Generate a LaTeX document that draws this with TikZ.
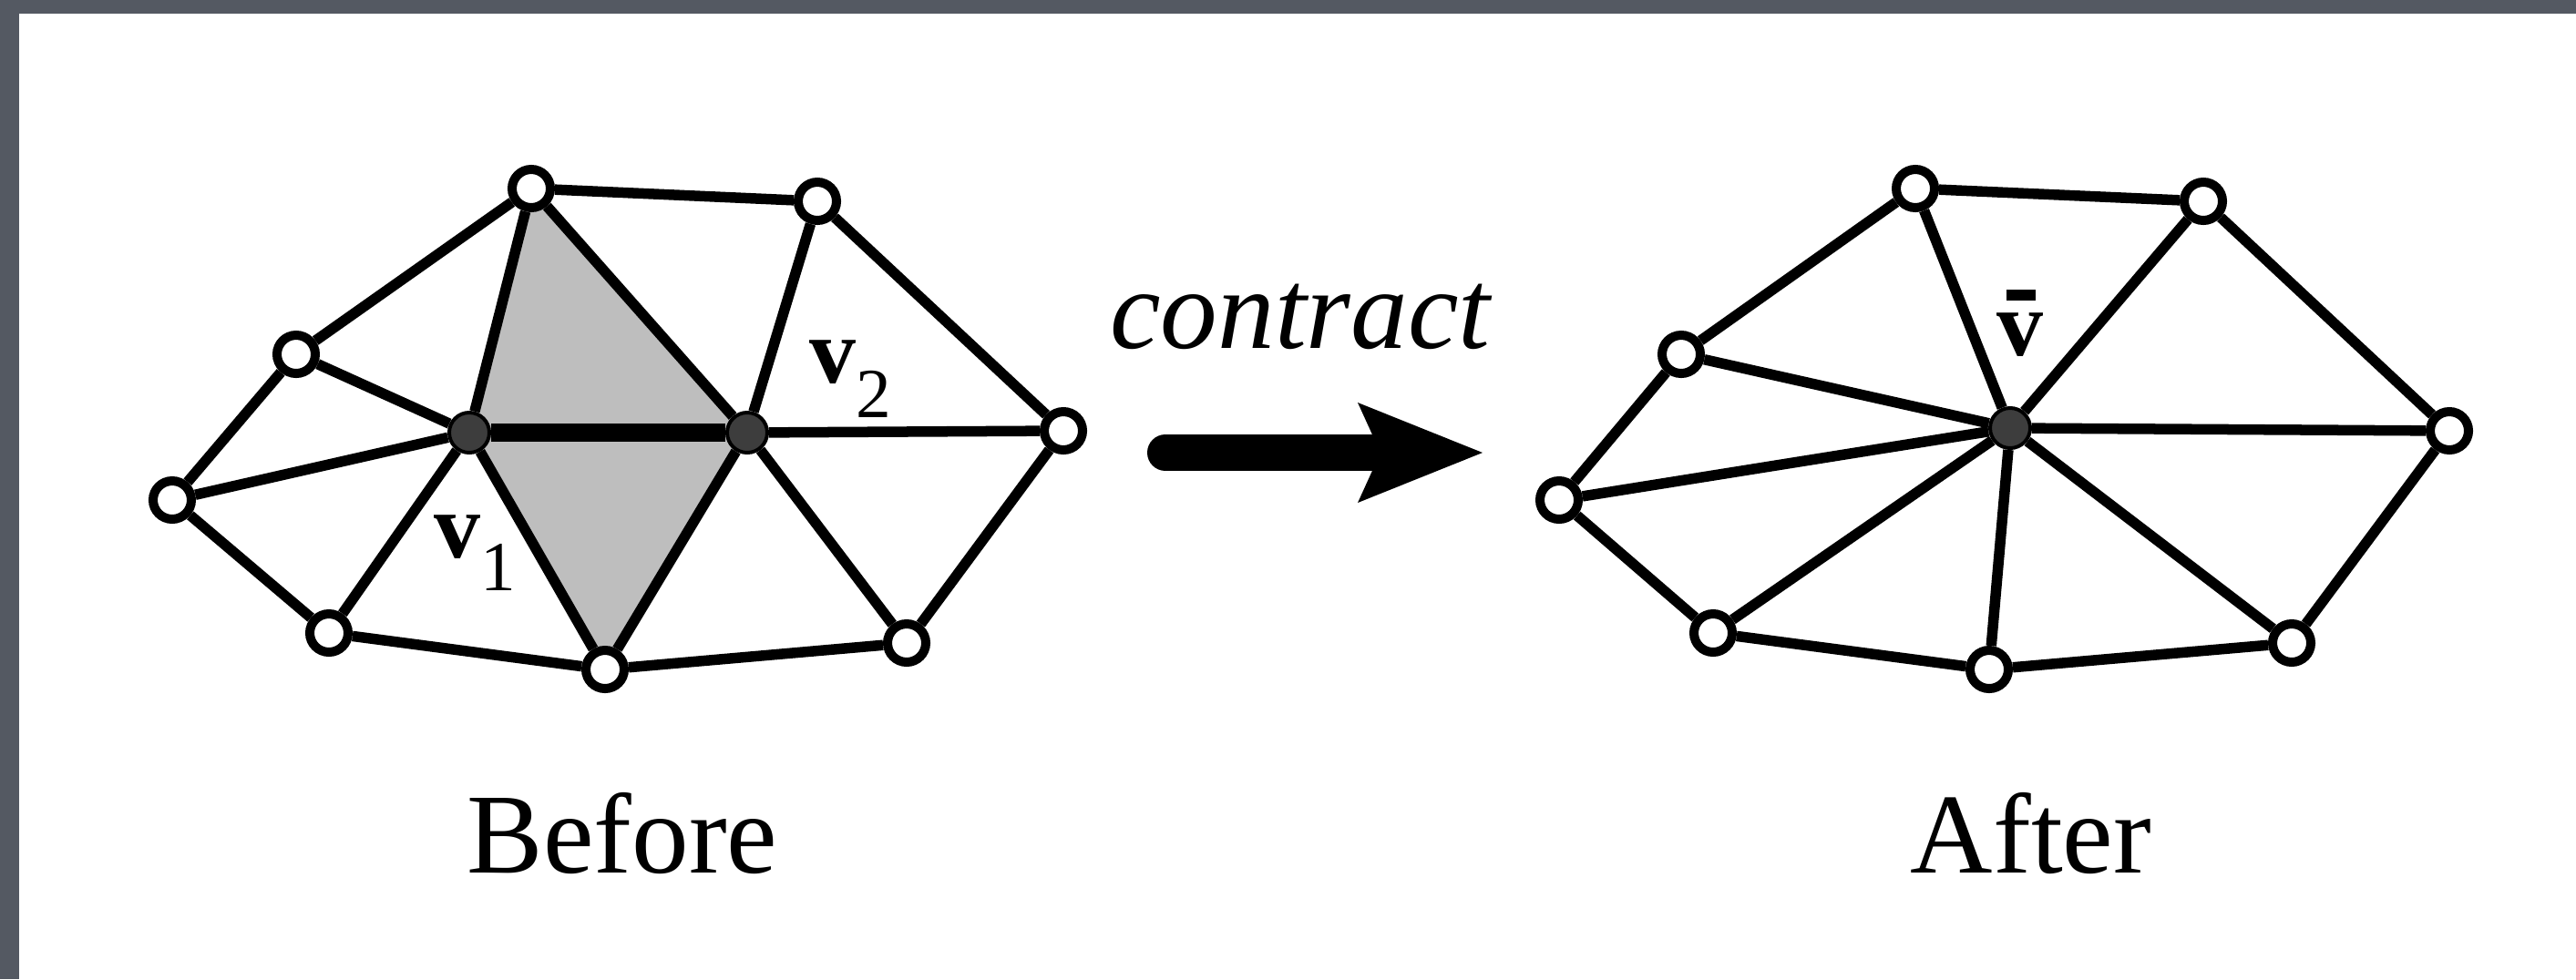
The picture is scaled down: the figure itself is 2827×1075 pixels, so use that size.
\documentclass[tikz,border=0pt]{standalone}
\usepackage{fontspec}
\setmainfont{Liberation Serif}
\begin{document}
\begin{tikzpicture}[x=0.01cm,y=-0.01cm,
  wv/.style={circle,draw=black,fill=white,line width=0.10cm,minimum size=0.42cm,inner sep=0pt},
  dv/.style={circle,draw=black,fill=black!76,line width=0.04cm,minimum size=0.44cm,inner sep=0pt},
  meshedge/.style={line width=0.115cm},
  thickedge/.style={line width=0.20cm},
  lbl/.style={inner sep=0pt,anchor=base,font=\fontsize{35.6pt}{40pt}\selectfont},
  vlbl/.style={inner sep=0pt,anchor=base west,font=\fontsize{29pt}{32pt}\selectfont\bfseries}]
\definecolor{framegray}{RGB}{84,89,98}
\definecolor{facegray}{RGB}{190,190,190}
\useasboundingbox (0,0) rectangle (2827,1075);
\fill[white] (0,0) rectangle (2827,1075);
\fill[framegray] (0,0) rectangle (2827,15);
\fill[framegray] (0,0) rectangle (21,1075);

% ---------- Before ----------
\coordinate (cA) at (583,207);
\coordinate (cv1) at (515,475);
\coordinate (cv2) at (820,475);
\coordinate (cG) at (664,735);
\fill[facegray] (cA) -- (cv1) -- (cv2) -- cycle;
\fill[facegray] (cv1) -- (cv2) -- (cG) -- cycle;

\node[wv] (lA) at (583,207) {};
\node[wv] (lB) at (897,221) {};
\node[wv] (lC) at (325,389) {};
\node[wv] (lD) at (189,549) {};
\node[wv] (lE) at (1167,473) {};
\node[wv] (lF) at (361,695) {};
\node[wv] (lG) at (664,735) {};
\node[wv] (lH) at (995,706) {};
\node[dv] (v1) at (515,475) {};
\node[dv] (v2) at (820,475) {};

\foreach \a/\b in {lA/lB,lA/lC,lC/lD,lD/lF,lF/lG,lG/lH,lH/lE,lE/lB,
  v1/lC,v1/lD,v1/lA,v1/lF,v1/lG,v2/lA,v2/lB,v2/lE,v2/lG,v2/lH}
  \draw[meshedge] (\a) -- (\b);
\draw[thickedge] (v1) -- (v2);

\node[vlbl] (lv1) at (476,612) {v\raisebox{-0.36cm}{\fontsize{22pt}{24pt}\selectfont\mdseries 1}};
\node[vlbl] (lv2) at (888,420) {v\raisebox{-0.38cm}{\fontsize{22pt}{24pt}\selectfont\mdseries 2}};

% ---------- arrow ----------
\node[lbl,font=\fontsize{35.6pt}{40pt}\selectfont\itshape] (contract) at (1427,382) {contract};
\coordinate (arrS) at (1279,497);
\coordinate (arrE) at (1515,497);
\coordinate (arrT) at (1627,497);
\coordinate (arrU) at (1490,442);
\coordinate (arrL) at (1490,552);
\draw[line width=0.40cm,line cap=round] (arrS) -- (arrE);
\fill (arrT) -- (arrU) -- (arrE) -- (arrL) -- cycle;

% ---------- After ----------
\node[wv] (rA) at (2102,207) {};
\node[wv] (rB) at (2418,221) {};
\node[wv] (rC) at (1845,389) {};
\node[wv] (rD) at (1711,549) {};
\node[wv] (rE) at (2688,473) {};
\node[wv] (rF) at (1880,695) {};
\node[wv] (rG) at (2183,735) {};
\node[wv] (rH) at (2515,706) {};
\node[dv] (vb) at (2206,470) {};
\foreach \a/\b in {rA/rB,rA/rC,rC/rD,rD/rF,rF/rG,rG/rH,rH/rE,rE/rB,
  vb/rA,vb/rB,vb/rC,vb/rD,vb/rE,vb/rF,vb/rG,vb/rH}
  \draw[meshedge] (\a) -- (\b);
\node[vlbl] (lvb) at (2191,390) {v\llap{\raisebox{0.60cm}{\rule{0.32cm}{0.12cm}}\hspace{0.09cm}}};

\node[lbl] (before) at (683,958) {Before};
\node[lbl] (after) at (2229,958) {After};
\end{tikzpicture}
\end{document}
